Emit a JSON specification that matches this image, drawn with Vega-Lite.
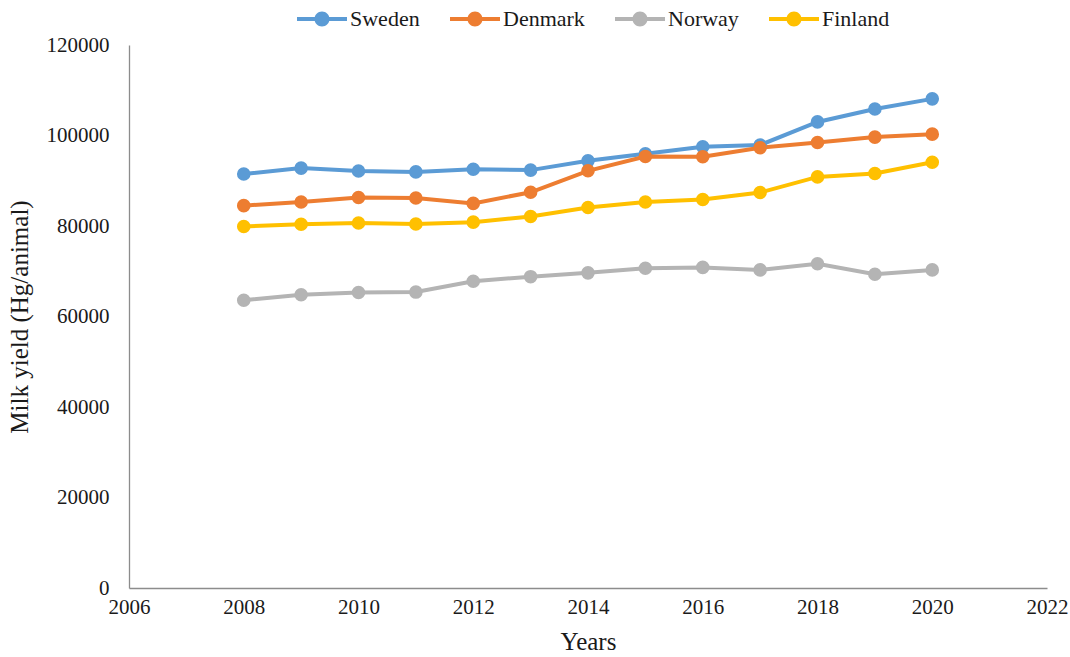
{
  "$schema": "https://vega.github.io/schema/vega-lite/v6.json",
  "width": 918,
  "height": 543,
  "autosize": {"type": "none"},
  "padding": {"left": 129, "top": 45, "right": 23, "bottom": 69},
  "background": "white",
  "config": {
    "view": {"stroke": null},
    "font": "Liberation Serif",
    "axis": {"labelFont": "Liberation Serif", "titleFont": "Liberation Serif", "labelColor": "#1a1a1a", "titleColor": "#1a1a1a", "domainColor": "#8c8c8c", "domainWidth": 1.3, "ticks": false, "grid": false, "labelFontSize": 21, "titleFontSize": 25, "titleFontWeight": "normal"},
    "legend": {"labelFont": "Liberation Serif", "labelFontSize": 22, "labelColor": "#1a1a1a"}
  },
  "data": {"values": [
    {"Year": 2008, "Country": "Sweden", "Yield": 91500},
    {"Year": 2009, "Country": "Sweden", "Yield": 92800},
    {"Year": 2010, "Country": "Sweden", "Yield": 92150},
    {"Year": 2011, "Country": "Sweden", "Yield": 91950},
    {"Year": 2012, "Country": "Sweden", "Yield": 92550},
    {"Year": 2013, "Country": "Sweden", "Yield": 92350},
    {"Year": 2014, "Country": "Sweden", "Yield": 94400},
    {"Year": 2015, "Country": "Sweden", "Yield": 95950},
    {"Year": 2016, "Country": "Sweden", "Yield": 97500},
    {"Year": 2017, "Country": "Sweden", "Yield": 97900},
    {"Year": 2018, "Country": "Sweden", "Yield": 103000},
    {"Year": 2019, "Country": "Sweden", "Yield": 105850},
    {"Year": 2020, "Country": "Sweden", "Yield": 108100},
    {"Year": 2008, "Country": "Denmark", "Yield": 84500},
    {"Year": 2009, "Country": "Denmark", "Yield": 85300},
    {"Year": 2010, "Country": "Denmark", "Yield": 86300},
    {"Year": 2011, "Country": "Denmark", "Yield": 86200},
    {"Year": 2012, "Country": "Denmark", "Yield": 85000},
    {"Year": 2013, "Country": "Denmark", "Yield": 87450},
    {"Year": 2014, "Country": "Denmark", "Yield": 92200},
    {"Year": 2015, "Country": "Denmark", "Yield": 95350},
    {"Year": 2016, "Country": "Denmark", "Yield": 95300},
    {"Year": 2017, "Country": "Denmark", "Yield": 97300},
    {"Year": 2018, "Country": "Denmark", "Yield": 98450},
    {"Year": 2019, "Country": "Denmark", "Yield": 99650},
    {"Year": 2020, "Country": "Denmark", "Yield": 100300},
    {"Year": 2008, "Country": "Norway", "Yield": 63600},
    {"Year": 2009, "Country": "Norway", "Yield": 64800},
    {"Year": 2010, "Country": "Norway", "Yield": 65300},
    {"Year": 2011, "Country": "Norway", "Yield": 65400},
    {"Year": 2012, "Country": "Norway", "Yield": 67800},
    {"Year": 2013, "Country": "Norway", "Yield": 68800},
    {"Year": 2014, "Country": "Norway", "Yield": 69650},
    {"Year": 2015, "Country": "Norway", "Yield": 70650},
    {"Year": 2016, "Country": "Norway", "Yield": 70850},
    {"Year": 2017, "Country": "Norway", "Yield": 70300},
    {"Year": 2018, "Country": "Norway", "Yield": 71650},
    {"Year": 2019, "Country": "Norway", "Yield": 69350},
    {"Year": 2020, "Country": "Norway", "Yield": 70300},
    {"Year": 2008, "Country": "Finland", "Yield": 79900},
    {"Year": 2009, "Country": "Finland", "Yield": 80400},
    {"Year": 2010, "Country": "Finland", "Yield": 80650},
    {"Year": 2011, "Country": "Finland", "Yield": 80450},
    {"Year": 2012, "Country": "Finland", "Yield": 80850},
    {"Year": 2013, "Country": "Finland", "Yield": 82100},
    {"Year": 2014, "Country": "Finland", "Yield": 84100},
    {"Year": 2015, "Country": "Finland", "Yield": 85300},
    {"Year": 2016, "Country": "Finland", "Yield": 85850},
    {"Year": 2017, "Country": "Finland", "Yield": 87400},
    {"Year": 2018, "Country": "Finland", "Yield": 90850},
    {"Year": 2019, "Country": "Finland", "Yield": 91600},
    {"Year": 2020, "Country": "Finland", "Yield": 94100}
  ]},
  "encoding": {
    "x": {"field": "Year", "type": "quantitative", "scale": {"domain": [2006, 2022], "nice": false, "zero": false},
      "axis": {"values": [2006, 2008, 2010, 2012, 2014, 2016, 2018, 2020, 2022], "format": "d", "title": "Years", "labelPadding": 8, "titlePadding": 12, "labelFlush": false}},
    "y": {"field": "Yield", "type": "quantitative", "scale": {"domain": [0, 120000], "nice": false},
      "axis": {"values": [0, 20000, 40000, 60000, 80000, 100000, 120000], "format": "d", "title": "Milk yield (Hg/animal)", "labelPadding": 20, "titlePadding": 14, "labelFlush": false}},
    "color": {"field": "Country", "type": "nominal",
      "scale": {"domain": ["Sweden", "Denmark", "Norway", "Finland"], "range": ["#5b9bd5", "#ed7d31", "#b4b4b4", "#ffc000"]},
      "sort": ["Sweden", "Denmark", "Norway", "Finland"],
      "legend": {"title": null, "orient": "none", "direction": "horizontal", "legendX": 182, "legendY": -37, "padding": 0,
         "symbolType": "M -2.5 -0.2 H 2.5 V 0.2 H -2.5 Z M -0.75 0 A 0.75 0.75 0 1 1 0.75 0 A 0.75 0.75 0 1 1 -0.75 0 Z",
         "symbolSize": 400, "symbolStrokeWidth": 0, "symbolOpacity": 1, "labelOffset": 17, "columnPadding": 30}}
  },
  "layer": [
    {"mark": {"type": "line", "strokeWidth": 4}},
    {"mark": {"type": "point", "filled": true, "size": 185, "opacity": 1}}
  ]
}
